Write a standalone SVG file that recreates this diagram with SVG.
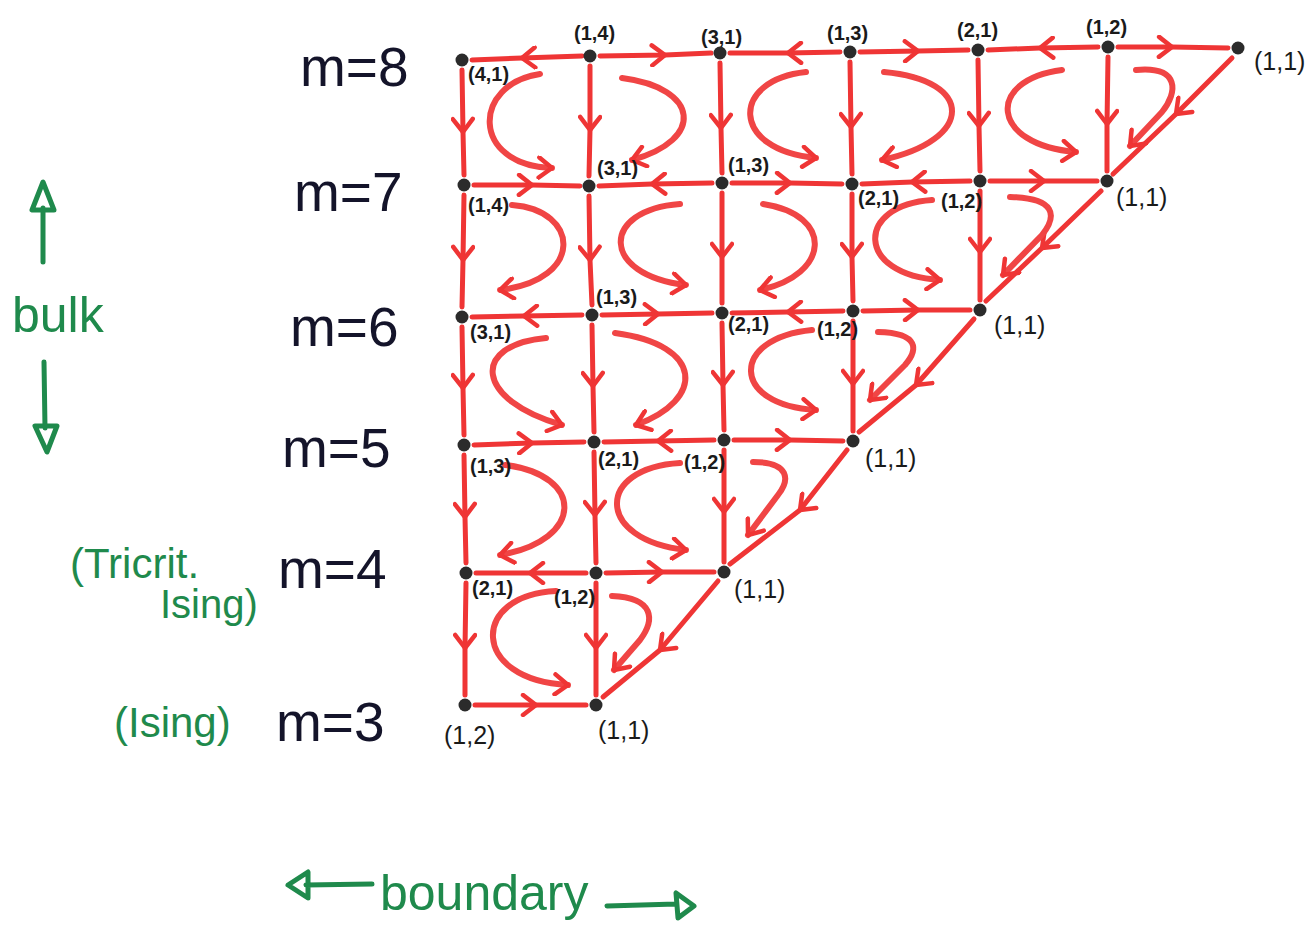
<svg xmlns="http://www.w3.org/2000/svg" width="1309" height="941" viewBox="0 0 1309 941">
<style>
.e{fill:none;stroke:#ef3535;stroke-width:5;stroke-linecap:round;stroke-linejoin:round;marker-mid:url(#chev)}
.c{fill:none;stroke:#f04545;stroke-width:6;stroke-linecap:round;stroke-linejoin:round;marker-end:url(#chev)}
.n{fill:#2b2b2b}
.l{font-family:"Liberation Sans",Arial,sans-serif;font-size:20px;font-weight:bold;fill:#1a1a1a}
.b{font-family:"Liberation Sans",Arial,sans-serif;font-size:25px;fill:#1a1a1a}
.m{font-family:"Liberation Sans",Arial,sans-serif;font-size:55px;fill:#14142a}
.g{font-family:"Liberation Sans",Arial,sans-serif;fill:#1f8a4c}
.ga{fill:none;stroke:#1f8a4c;stroke-width:5;stroke-linecap:round;stroke-linejoin:round}
</style>
<defs>
<marker id="chev" viewBox="-16 -12 18 24" markerWidth="18" markerHeight="24" refX="0" refY="0" orient="auto" markerUnits="userSpaceOnUse">
<path d="M-13,-10 L0,0 L-13,10" fill="none" stroke="#ef3535" stroke-width="4.5" stroke-linecap="round" stroke-linejoin="round"/>
</marker>
</defs>
<rect width="1309" height="941" fill="#ffffff"/>

<g id="connectors">
<!-- m=8 horizontals -->
<polyline class="e" points="582,56 522,58 472,60"/>
<polyline class="e" points="600,56 665,55 711,53"/>
<polyline class="e" points="840,52 788,53 730,53"/>
<polyline class="e" points="860,52 918,51 968,50"/>
<polyline class="e" points="1098,47 1040,48 988,50"/>
<polyline class="e" points="1118,47 1172,47 1228,48"/>
<!-- m=7 horizontals -->
<polyline class="e" points="474,185 532,185 580,186"/>
<polyline class="e" points="712,183 652,184 599,186"/>
<polyline class="e" points="732,183 790,183 842,184"/>
<polyline class="e" points="970,181 912,182 862,184"/>
<polyline class="e" points="990,181 1044,181 1097,181"/>
<!-- m=6 horizontals -->
<polyline class="e" points="582,315 524,316 472,317"/>
<polyline class="e" points="602,315 658,314 712,313"/>
<polyline class="e" points="843,311 788,312 732,313"/>
<polyline class="e" points="863,311 918,310 970,310"/>
<!-- m=5 horizontals -->
<polyline class="e" points="474,445 532,443 584,442"/>
<polyline class="e" points="714,440 658,441 604,442"/>
<polyline class="e" points="734,440 790,440 843,441"/>
<!-- m=4 horizontals -->
<polyline class="e" points="586,573 530,573 476,573"/>
<polyline class="e" points="606,573 662,572 714,572"/>
<!-- m=3 horizontal -->
<polyline class="e" points="475,705 536,705 586,705"/>
<!-- verticals m8->m7 -->
<polyline class="e" points="462,70 463,132 464,175"/>
<polyline class="e" points="590,66 590,130 589,176"/>
<polyline class="e" points="720,63 721,128 722,173"/>
<polyline class="e" points="850,62 851,127 852,174"/>
<polyline class="e" points="978,60 979,126 980,171"/>
<polyline class="e" points="1108,57 1107,124 1107,171"/>
<!-- verticals m7->m6 -->
<polyline class="e" points="464,195 463,260 462,307"/>
<polyline class="e" points="589,196 590,260 592,305"/>
<polyline class="e" points="722,193 722,257 722,303"/>
<polyline class="e" points="852,194 852,257 853,301"/>
<polyline class="e" points="980,191 980,252 980,300"/>
<!-- verticals m6->m5 -->
<polyline class="e" points="462,327 463,388 464,435"/>
<polyline class="e" points="592,325 593,386 594,432"/>
<polyline class="e" points="722,323 723,385 724,430"/>
<polyline class="e" points="853,321 853,384 853,431"/>
<!-- verticals m5->m4 -->
<polyline class="e" points="464,455 465,517 466,563"/>
<polyline class="e" points="594,452 595,515 596,563"/>
<polyline class="e" points="724,450 724,512 724,562"/>
<!-- verticals m4->m3 -->
<polyline class="e" points="466,583 465,648 465,695"/>
<polyline class="e" points="596,583 596,648 596,695"/>
<!-- diagonals -->
<polyline class="e" points="1232,58 1176,114 1113,174"/>
<polyline class="e" points="1101,191 1042,248 986,301"/>
<polyline class="e" points="974,319 916,385 859,432"/>
<polyline class="e" points="847,450 800,510 730,564"/>
<polyline class="e" points="718,581 660,650 603,697"/>
<!-- curved arrows m8-m7 -->
<path class="c" d="M540,74 C472,84 470,165 552,168"/>
<path class="c" d="M622,78 C700,88 705,140 632,160"/>
<path class="c" d="M806,72 C730,80 730,150 816,158"/>
<path class="c" d="M884,72 C975,80 975,140 882,160"/>
<path class="c" d="M1062,70 C985,80 990,145 1076,152"/>
<path class="c" d="M1136,70 C1180,66 1178,92 1162,112 L1130,146"/>
<!-- curved arrows m7-m6 -->
<path class="c" d="M512,205 C580,210 585,280 500,290"/>
<path class="c" d="M680,204 C600,210 600,275 686,285"/>
<path class="c" d="M763,204 C835,215 830,275 760,290"/>
<path class="c" d="M932,200 C855,205 855,275 940,280"/>
<path class="c" d="M1010,197 C1055,198 1058,215 1042,235 L1003,275"/>
<!-- curved arrows m6-m5 -->
<path class="c" d="M546,338 C470,345 475,400 562,425"/>
<path class="c" d="M615,333 C705,345 705,400 636,425"/>
<path class="c" d="M812,330 C730,338 730,405 816,410"/>
<path class="c" d="M878,332 C920,333 918,350 905,365 L870,400"/>
<!-- curved arrows m5-m4 -->
<path class="c" d="M505,465 C585,475 585,540 500,555"/>
<path class="c" d="M680,463 C595,468 595,540 686,550"/>
<path class="c" d="M753,462 C790,462 790,480 778,495 L748,535"/>
<!-- curved arrows m4-m3 -->
<path class="c" d="M556,591 C470,595 470,680 568,685"/>
<path class="c" d="M612,596 C655,598 655,620 640,640 L614,670"/>
</g>

<!-- m=8 nodes -->
<g id="n8-1"><circle class="n" cx="462" cy="60" r="6.5"/><text class="l" x="468" y="81">(4,1)</text></g>
<g id="n8-2"><circle class="n" cx="590" cy="56" r="6.5"/><text class="l" x="574" y="40">(1,4)</text></g>
<g id="n8-3"><circle class="n" cx="720" cy="53" r="6.5"/><text class="l" x="701" y="44">(3,1)</text></g>
<g id="n8-4"><circle class="n" cx="850" cy="52" r="6.5"/><text class="l" x="827" y="40">(1,3)</text></g>
<g id="n8-5"><circle class="n" cx="978" cy="50" r="6.5"/><text class="l" x="957" y="37">(2,1)</text></g>
<g id="n8-6"><circle class="n" cx="1108" cy="47" r="6.5"/><text class="l" x="1086" y="34">(1,2)</text></g>
<g id="n8-7"><circle class="n" cx="1238" cy="48" r="6.5"/><text class="b" x="1254" y="70">(1,1)</text></g>
<!-- m=7 nodes -->
<g id="n7-1"><circle class="n" cx="464" cy="185" r="6.5"/><text class="l" x="468" y="212">(1,4)</text></g>
<g id="n7-2"><circle class="n" cx="589" cy="186" r="6.5"/><text class="l" x="597" y="175">(3,1)</text></g>
<g id="n7-3"><circle class="n" cx="722" cy="183" r="6.5"/><text class="l" x="728" y="172">(1,3)</text></g>
<g id="n7-4"><circle class="n" cx="852" cy="184" r="6.5"/><text class="l" x="858" y="205">(2,1)</text></g>
<g id="n7-5"><circle class="n" cx="980" cy="181" r="6.5"/><text class="l" x="941" y="208">(1,2)</text></g>
<g id="n7-6"><circle class="n" cx="1107" cy="181" r="6.5"/><text class="b" x="1116" y="206">(1,1)</text></g>
<!-- m=6 nodes -->
<g id="n6-1"><circle class="n" cx="462" cy="317" r="6.5"/><text class="l" x="470" y="339">(3,1)</text></g>
<g id="n6-2"><circle class="n" cx="592" cy="315" r="6.5"/><text class="l" x="596" y="304">(1,3)</text></g>
<g id="n6-3"><circle class="n" cx="722" cy="313" r="6.5"/><text class="l" x="728" y="331">(2,1)</text></g>
<g id="n6-4"><circle class="n" cx="853" cy="311" r="6.5"/><text class="l" x="817" y="336">(1,2)</text></g>
<g id="n6-5"><circle class="n" cx="980" cy="310" r="6.5"/><text class="b" x="994" y="334">(1,1)</text></g>
<!-- m=5 nodes -->
<g id="n5-1"><circle class="n" cx="464" cy="445" r="6.5"/><text class="l" x="470" y="473">(1,3)</text></g>
<g id="n5-2"><circle class="n" cx="594" cy="442" r="6.5"/><text class="l" x="598" y="466">(2,1)</text></g>
<g id="n5-3"><circle class="n" cx="724" cy="440" r="6.5"/><text class="l" x="684" y="469">(1,2)</text></g>
<g id="n5-4"><circle class="n" cx="853" cy="441" r="6.5"/><text class="b" x="865" y="467">(1,1)</text></g>
<!-- m=4 nodes -->
<g id="n4-1"><circle class="n" cx="466" cy="573" r="6.5"/><text class="l" x="472" y="595">(2,1)</text></g>
<g id="n4-2"><circle class="n" cx="596" cy="573" r="6.5"/><text class="l" x="554" y="604">(1,2)</text></g>
<g id="n4-3"><circle class="n" cx="724" cy="572" r="6.5"/><text class="b" x="734" y="598">(1,1)</text></g>
<!-- m=3 nodes -->
<g id="n3-1"><circle class="n" cx="465" cy="705" r="6.5"/><text class="b" x="444" y="744">(1,2)</text></g>
<g id="n3-2"><circle class="n" cx="596" cy="705" r="6.5"/><text class="b" x="598" y="739">(1,1)</text></g>

<g id="row-labels">
<text class="m" x="300" y="86">m=8</text>
<text class="m" x="294" y="211">m=7</text>
<text class="m" x="290" y="346">m=6</text>
<text class="m" x="282" y="467">m=5</text>
<text class="m" x="278" y="588">m=4</text>
<text class="m" x="276" y="741">m=3</text>
</g>

<g id="bulk-label">
<path class="ga" d="M43,262 L43,208 M43,182 L32,210 L54,210 Z"/>
<text class="g" x="12" y="332" font-size="50">bulk</text>
<path class="ga" d="M44,362 L45,428 M35,426 L57,426 L47,452 Z"/>
</g>
<g id="phase-labels">
<text class="g" x="70" y="578" font-size="42">(Tricrit.</text>
<text class="g" x="160" y="618" font-size="40">Ising)</text>
<text class="g" x="114" y="737" font-size="42">(Ising)</text>
</g>
<g id="boundary-label">
<path class="ga" d="M372,884 L306,885 M288,885 L308,872 L308,898 Z"/>
<text class="g" x="380" y="910" font-size="50">boundary</text>
<path class="ga" d="M607,906 L676,904 M694,906 L676,893 L678,918 Z"/>
</g>
</svg>
